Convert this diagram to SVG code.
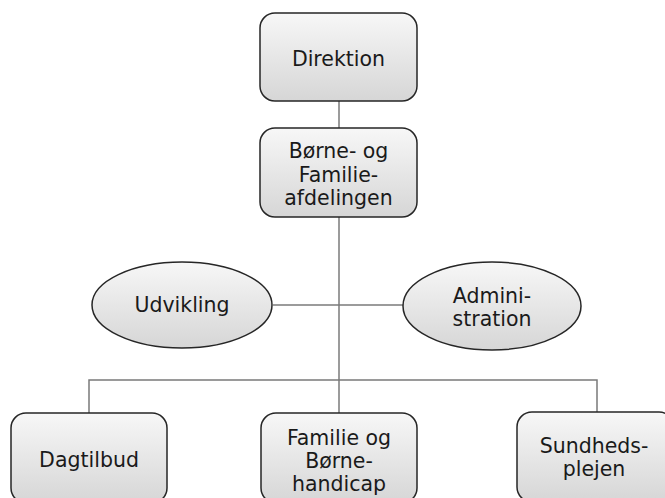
<svg xmlns="http://www.w3.org/2000/svg" width="665" height="498" viewBox="0 0 665 498">
<defs>
<linearGradient id="g" x1="0" y1="0" x2="0" y2="1">
<stop offset="0" stop-color="#f7f7f7"/>
<stop offset="1" stop-color="#d6d6d6"/>
</linearGradient>
<style>
.box{fill:url(#g);stroke:#262626;stroke-width:1.5}
.c{fill:none;stroke:#7a7a7a;stroke-width:1.5}
text{font-family:"DejaVu Sans",Verdana,sans-serif;font-size:20.5px;fill:#1a1a1a;text-anchor:middle}
</style>
</defs>
<g id="connectors">
<line class="c" x1="339" y1="101" x2="339" y2="128"/>
<line class="c" x1="339" y1="217" x2="339" y2="413"/>
<line class="c" x1="273" y1="305" x2="403" y2="305"/>
<polyline class="c" points="89,413 89,380 597,380 597,412"/>
</g>
<g id="direktion">
<rect class="box" x="260" y="13" width="157" height="88" rx="15"/>
<text x="338.5" y="66">Direktion</text>
</g>
<g id="borne-familie">
<rect class="box" x="260" y="128" width="157" height="89" rx="15"/>
<text x="338.5" y="158">Børne- og</text>
<text x="338.5" y="181.5">Familie-</text>
<text x="338.5" y="205">afdelingen</text>
</g>
<g id="udvikling">
<ellipse class="box" cx="182" cy="305" rx="90" ry="43"/>
<text x="182" y="312">Udvikling</text>
</g>
<g id="administration">
<ellipse class="box" cx="492" cy="306" rx="89" ry="44"/>
<text x="492" y="303">Admini-</text>
<text x="492" y="326">stration</text>
</g>
<g id="dagtilbud">
<rect class="box" x="11" y="413" width="156" height="90" rx="15"/>
<text x="89" y="467">Dagtilbud</text>
</g>
<g id="familie-borne">
<rect class="box" x="261" y="413" width="156" height="90" rx="15"/>
<text x="339" y="445">Familie og</text>
<text x="339" y="468">Børne-</text>
<text x="339" y="490.5">handicap</text>
</g>
<g id="sundhedsplejen">
<rect class="box" x="517" y="412" width="157" height="90" rx="15"/>
<text x="594" y="453">Sundheds-</text>
<text x="594" y="476">plejen</text>
</g>
</svg>
